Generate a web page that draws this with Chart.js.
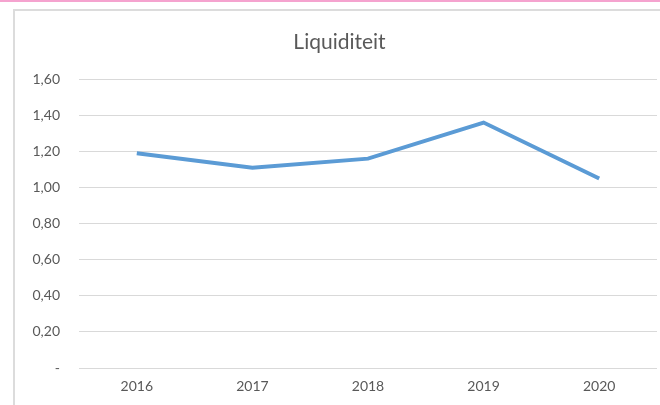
<!DOCTYPE html>
<html>
<head>
<meta charset="utf-8">
<script src="https://cdn.jsdelivr.net/npm/chart.js@4"></script>
<style>
  body { margin: 0; background: #fff; width: 660px; height: 405px; overflow: hidden; position: relative; }
  #pink { position: absolute; left: 0; top: 0; width: 660px; height: 2px; background: #f5a3cf; }
  #frame { position: absolute; left: 13px; top: 9px; width: 700px; height: 500px; border-left: 2px solid #dcdcdc; border-top: 2px solid #dcdcdc; }
  #wrap { position: absolute; left: 0; top: 0; width: 660px; height: 405px; }
</style>
</head>
<body>
<div id="pink"></div>
<div id="frame"></div>
<div id="wrap"><canvas id="myChart"></canvas></div>
<script>
const jaren = ['2016', '2017', '2018', '2019', '2020'];
const liquiditeit = [1.19, 1.11, 1.16, 1.36, 1.05];
const yTicks = [0, 0.2, 0.4, 0.6, 0.8, 1.0, 1.2, 1.4, 1.6];

const ctx = document.getElementById('myChart');
const tekst = '#595959';

const labelFormat = (v) => v === 0 ? '-' : v.toFixed(2).replace('.', ',');

new Chart(ctx, {
  type: 'line',
  data: {
    labels: jaren,
    datasets: [{
      label: 'Liquiditeit',
      data: liquiditeit,
      borderColor: '#5b9bd5',
      borderWidth: 4,
      pointRadius: 0,
      tension: 0,
      fill: false
    }]
  },
  options: {
    responsive: true,
    maintainAspectRatio: false,
    animation: false,
    layout: { padding: { left: 22, right: 3, top: 0, bottom: 0 } },
    plugins: {
      legend: { display: false },
      tooltip: { enabled: false },
      title: {
        display: true,
        text: 'Liquiditeit',
        color: tekst,
        font: { family: 'Lato', size: 21, weight: 'normal' },
        padding: { top: 30, bottom: 24 }
      }
    },
    scales: {
      x: {
        offset: true,
        grid: { display: false, drawTicks: false },
        border: { display: false },
        ticks: { color: tekst, font: { family: 'Lato', size: 14 }, padding: 10 },
        afterFit: (s) => { s.height = 37; }
      },
      y: {
        min: 0,
        max: 1.6,
        afterBuildTicks: (s) => { s.ticks = yTicks.map(v => ({ value: v })); },
        grid: { color: '#d9d9d9', lineWidth: 1, drawTicks: false },
        border: { display: false },
        ticks: {
          color: tekst,
          font: { family: 'Lato', size: 14 },
          padding: 19,
          callback: (v) => labelFormat(v)
        },
        afterFit: (s) => { s.width = 57; }
      }
    }
  }
});
</script>
</body>
</html>
